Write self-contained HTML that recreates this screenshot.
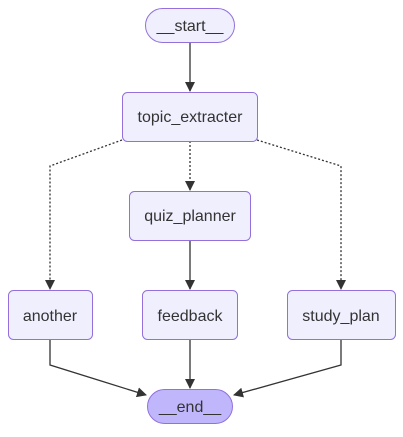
<!DOCTYPE html>
<html><head><style>
html,body{margin:0;padding:0;background:#fff;}
svg text{font-family:"Liberation Sans",sans-serif;font-size:16px;fill:#333;}
</style></head><body>
<svg width="403" height="432" viewBox="0 0 403 432" xmlns="http://www.w3.org/2000/svg">
<defs><marker id="a" markerWidth="10" markerHeight="10" refX="9" refY="5" orient="auto" markerUnits="userSpaceOnUse"><path d="M0,0 L10,5 L0,10 z" fill="#333"/></marker></defs>
<g stroke="#333" stroke-width="1.3" fill="none">
<path d="M190,42 V91" marker-end="url(#a)"/>
<path d="M122,140 L50,166 V289" stroke-dasharray="2,2" marker-end="url(#a)"/>
<path d="M190,141 V190" stroke-dasharray="2,2" marker-end="url(#a)"/>
<path d="M257,140 L341,166 V289" stroke-dasharray="2,2" marker-end="url(#a)"/>
<path d="M190,240 V289" marker-end="url(#a)"/>
<path d="M50,340 V365 L146,395" marker-end="url(#a)"/>
<path d="M190,340 V388" marker-end="url(#a)"/>
<path d="M341,340 V365 L234,395" marker-end="url(#a)"/>
</g>
<g stroke="#9370db" stroke-width="1" fill="#f0effe">
<rect x="145.5" y="8.5" width="89" height="34" rx="17"/>
<rect x="122.5" y="92.5" width="135" height="49" rx="5"/>
<rect x="129.5" y="191.5" width="121" height="49" rx="5"/>
<rect x="8.5" y="290.5" width="84" height="49" rx="5"/>
<rect x="142.5" y="290.5" width="95" height="49" rx="5"/>
<rect x="287.5" y="290.5" width="108" height="49" rx="5"/>
<rect x="147.5" y="389.5" width="85" height="34" rx="17" fill="#bfb6fc"/>
</g>
<g text-anchor="middle">
<text x="190" y="31">__start__</text>
<text x="190" y="122">topic_extracter</text>
<text x="190" y="221">quiz_planner</text>
<text x="50" y="321">another</text>
<text x="190" y="321">feedback</text>
<text x="341" y="321">study_plan</text>
<text x="190" y="412">__end__</text>
</g>
</svg>
</body></html>
